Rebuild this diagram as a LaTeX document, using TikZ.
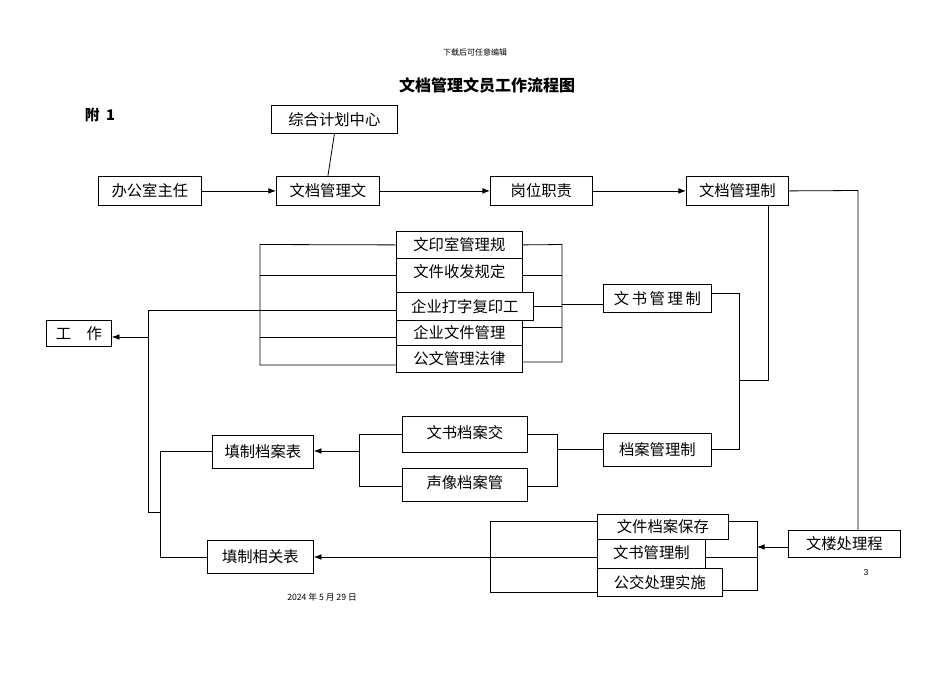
\documentclass[tikz,border=0pt]{standalone}
\usepackage{fontspec}
\setmainfont{Liberation Sans}
\newfontfamily\cjk{Noto Sans CJK SC}
\usetikzlibrary{arrows.meta}
\tikzset{>=Latex,
  box/.style={draw, inner sep=0pt, font=\cjk\fontsize{11.5}{12}\selectfont}}
% box from pixel corners
\newcommand{\bx}[6]{\node[box, minimum width={(#4-#2)*0.75pt}, minimum height={(#5-#3)*0.75pt}, anchor=north west] (#1) at (#2,#3) {#6};}

\begin{document}
\begin{tikzpicture}[x=0.75pt, y=-0.75pt, line width=0.6pt]
\useasboundingbox (0,0) rectangle (950,672);

% texts
\node[font=\cjk\fontsize{6}{6}\selectfont] (hdr) at (475,52) {下载后可任意编辑};
\node[font=\cjk\bfseries\fontsize{12}{12}\selectfont] (title) at (487,85) {文档管理文员工作流程图};
\node[font=\cjk\bfseries\fontsize{11}{11}\selectfont] (fu) at (100,115) {附\ \ 1};
\node[font=\cjk\fontsize{6.5}{6.5}\selectfont] (date) at (322,597) {2024 年 5 月 29 日};
\node[font=\fontsize{6.5}{6.5}\selectfont] (pg) at (866,573) {3};

% top row
\bx{zh}{271}{105}{397}{133}{综合计划中心}
\bx{bg}{98}{176}{201}{205}{办公室主任}
\bx{wd}{276}{176}{379}{205}{文档管理文}
\bx{gw}{490}{176}{592}{205}{岗位职责}
\bx{wz}{686}{176}{788}{205}{文档管理制}

% upper stack
\bx{s1}{396}{231}{522}{258}{文印室管理规}
\bx{s2}{396}{258}{522}{292}{\raisebox{6pt}{文件收发规定}}
\bx{s3}{396}{292}{533}{320}{企业打字复印工}
\bx{s4}{396}{320}{522}{345}{企业文件管理}
\bx{s5}{396}{345}{522}{372}{公文管理法律}
\bx{ws}{603}{284}{711}{312}{文\,书\,管\,理\,制}
\bx{gz}{46}{320}{111}{346}{工\quad 作}

% middle
\bx{da}{603}{433}{711}{466}{档案管理制}
\bx{wj}{402}{416}{527}{452}{\raisebox{4pt}{文书档案交}}
\bx{sx}{402}{468}{527}{501}{\raisebox{4pt}{声像档案管}}
\bx{tb}{212}{435}{313}{468}{填制档案表}

% bottom
\bx{b1}{597}{514}{728}{539}{文件档案保存}
\bx{b2}{597}{539}{705}{568}{\raisebox{3pt}{文书管理制}}
\bx{b3}{597}{568}{722}{596}{公交处理实施}
\bx{wl}{788}{530}{900}{557}{文楼处理程}
\bx{tx}{207}{540}{313}{573}{填制相关表}

% top connectors
\draw (zh.south) -- (wd.north);
\draw[->] (bg) -- (wd);
\draw[->] (wd) -- (gw);
\draw[->] (gw) -- (wz);
\draw (wz.east) -- (858,190.5) -- (wl.north -| 858,0);

% upper stack brackets
\draw (s1.west) -- (260,244.5) -- (260,365) -- (s5.west |- 0,365);
\draw (s2.west |- 0,275) -- (260,275);
\draw (s4.west |- 0,337) -- (260,337);
\draw (s1.east) -- (562,244.5) -- (562,362) -- (s5.east |- 0,362);
\draw (s2.east |- 0,275) -- (562,275);
\draw (s3.east |- 0,306) -- (562,306);
\draw (s4.east |- 0,327) -- (562,327);
\draw (562,304) -- (ws.west |- 0,304);
\draw (ws.east |- 0,293) -- (739,293) -- (739,449) -- (da.east |- 0,449);
\draw (wz.south -| 768,0) -- (768,380) -- (739,380);

% left side
\draw (s3.west |- 0,310) -- (148,310) -- (148,512) -- (160,512);
\draw[->] (148,337) -- (gz.east |- 0,337);
\draw (tb.west |- 0,451) -- (160,451) -- (160,557) -- (tx.west |- 0,557);

% middle brackets
\draw (da.west |- 0,449) -- (557,449);
\draw (wj.east |- 0,434) -- (557,434) -- (557,486) -- (sx.east |- 0,486);
\draw (wj.west |- 0,434) -- (359,434) -- (359,486) -- (sx.west |- 0,486);
\draw[->] (359,451) -- (tb.east |- 0,451);

% bottom brackets
\draw[->] (wl.west |- 0,547) -- (757,547);
\draw (b1.east |- 0,521) -- (757,521) -- (757,590) -- (b3.east |- 0,590);
\draw (b2.east |- 0,557) -- (757,557);
\draw (b1.west |- 0,521) -- (490,521) -- (490,592) -- (b3.west |- 0,592);
\draw[->] (b2.west |- 0,557) -- (tx.east |- 0,557);

\end{tikzpicture}
\end{document}
